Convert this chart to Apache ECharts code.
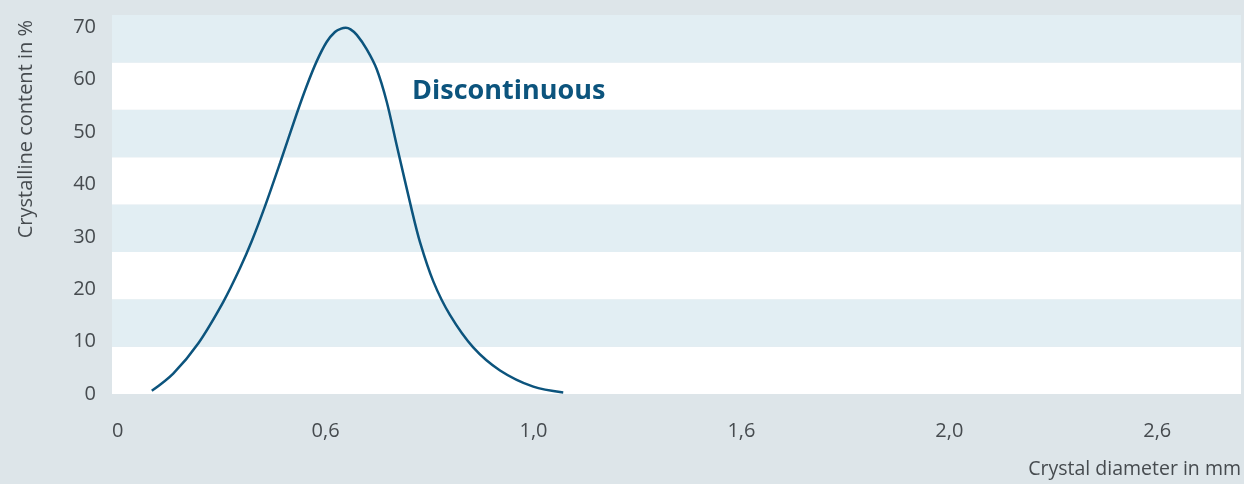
<!DOCTYPE html>
<html>
<head>
<meta charset="utf-8">
<script src="https://cdn.jsdelivr.net/npm/echarts@6/dist/echarts.min.js"></script>
<style>
html,body{margin:0;padding:0;background:#dde5e9;}
#chart{width:1244px;height:484px;}
</style>
</head>
<body>
<div id="chart"></div>
<script>
// x positions are in "tick slot" units: the reference axis places its labels evenly,
// slot i carries label xTickLabels[i]
const xTickSlots = [0, 1, 2, 3, 4, 5];
const xTickLabels = ['0', '0,6', '1,0', '1,6', '2,0', '2,6'];
const yTickValues = [0, 10, 20, 30, 40, 50, 60, 70];

// curve: slot position / crystalline content %
const curveX = [0.164, 0.267, 0.388, 0.508, 0.588, 0.645, 0.710, 0.781, 0.861, 0.909, 0.957, 1.005, 1.045, 1.075, 1.097, 1.120, 1.150, 1.198, 1.246, 1.294, 1.342, 1.414, 1.454, 1.518, 1.598, 1.710, 1.839, 1.999, 2.143];
const curveY = [0.6, 3.9, 9.7, 17.6, 24.0, 29.2, 36.0, 44.1, 53.5, 58.8, 63.5, 67.2, 69.1, 69.75, 69.9, 69.6, 68.55, 65.8, 62.0, 55.8, 47.5, 35.2, 29.0, 21.5, 15.1, 8.9, 4.5, 1.4, 0.3];

const seriesName = 'Discontinuous';
const xTitle = 'Crystal diameter in mm';
const yTitle = 'Crystalline content in %';

const FONT = '"Open Sans", "Noto Sans", sans-serif';
const TEXT = '#464b4f';
const LINE = '#0c547d';

const chart = echarts.init(document.getElementById('chart'), null, {renderer: 'canvas'});
chart.setOption({
  backgroundColor: '#dde5e9',
  animation: false,
  textStyle: {fontFamily: FONT},
  grid: {left: 112, top: 15, right: 3, bottom: 90, containLabel: false},
  title: {
    text: seriesName,
    left: 412, top: 78, padding: 0,
    textStyle: {fontFamily: FONT, fontSize: 27, fontWeight: 'bold', color: LINE}
  },
  graphic: [
    {
      type: 'text',
      left: 16, top: 20,
      rotation: Math.PI / 2,
      style: {text: yTitle, font: '20px ' + FONT, fill: TEXT}
    },
    {
      type: 'text',
      right: 3, top: 459,
      style: {text: xTitle, font: '19.5px ' + FONT, fill: TEXT}
    }
  ],
  xAxis: {
    type: 'value',
    min: -0.0274,
    max: 5.403,
    axisLine: {show: false},
    axisTick: {show: false},
    splitLine: {show: false},
    axisLabel: {
      customValues: xTickSlots,
      formatter: v => xTickLabels[Math.round(v)],
      color: TEXT, fontSize: 20, margin: 27, fontFamily: FONT
    }
  },
  yAxis: [
    {
      type: 'value',
      min: 0,
      max: 72.35,
      axisLine: {show: false},
      axisTick: {show: false},
      splitLine: {show: false},
      axisLabel: {
        customValues: yTickValues,
        color: TEXT, fontSize: 20, margin: 16, fontFamily: FONT
      }
    },
    {
      type: 'value',
      min: 0, max: 8, interval: 1,
      position: 'right',
      axisLine: {show: false},
      axisTick: {show: false},
      axisLabel: {show: false},
      splitLine: {show: false},
      splitArea: {show: true, areaStyle: {color: ['#ffffff', '#e2eef3']}}
    }
  ],
  series: [{
    name: seriesName,
    type: 'line',
    yAxisIndex: 0,
    smooth: 0.3,
    symbol: 'none',
    lineStyle: {color: LINE, width: 2.5},
    data: curveX.map((x, i) => [x, curveY[i]])
  }]
});
</script>
</body>
</html>
